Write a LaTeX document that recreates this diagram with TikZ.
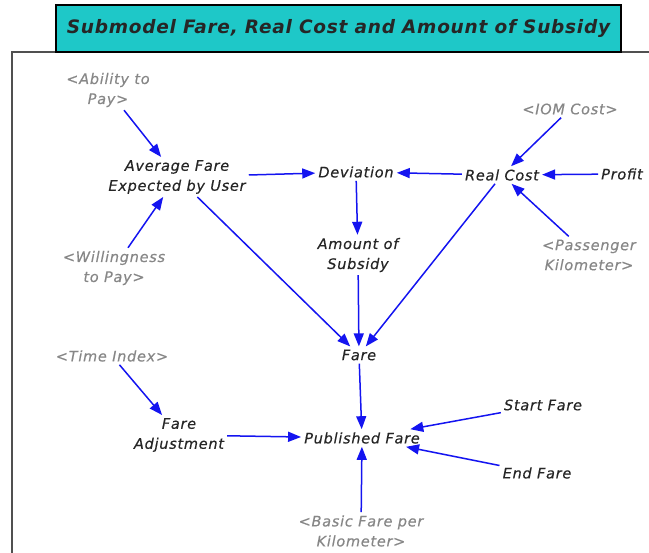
\documentclass[tikz,border=0pt]{standalone}
\usepackage{fontspec}
\setmainfont{DejaVu Sans}
\usetikzlibrary{arrows.meta}
\definecolor{linkblue}{RGB}{20,20,240}
\definecolor{shadowgray}{RGB}{135,135,135}
\definecolor{titlefill}{RGB}{30,200,200}
\definecolor{framegray}{RGB}{80,80,80}
\tikzset{
  var/.style={align=center, inner sep=3pt, text=black!85,
    font=\fontsize{14.5}{20}\selectfont\itshape\addfontfeature{LetterSpace=5,FakeBold=0.4}},
  shadow/.style={var, text=shadowgray},
  link/.style={draw=linkblue, line width=1.5pt,
    -{Triangle[length=13pt,width=10pt]}, fill=linkblue},
  titlebox/.style={draw=black, line width=1.5pt, fill=titlefill,
    inner sep=0pt, text=black!85,
    font=\fontsize{18.5}{20}\selectfont\bfseries\itshape\addfontfeature{LetterSpace=4}}
}
\begin{document}
\begin{tikzpicture}[x=1pt,y=-1pt]
\useasboundingbox (0,0) rectangle (649,553);
% outer frame of the view
\draw[framegray, line width=1.5pt] (12,553) -- (12,52) -- (649,52);
% heading
\node[titlebox, minimum width=565pt, minimum height=47pt] (title) at (338.5,28.5)
  {Submodel Fare, Real Cost and Amount of Subsidy};

% variables
\node[shadow] (ability) at (108,90) {<Ability to\\Pay>};
\node[var] (avg) at (177,177) {Average Fare\\Expected by User};
\node[shadow] (willing) at (114,268) {<Willingness\\to Pay>};
\node[var] (dev) at (356,172) {Deviation};
\node[var] (real) at (502,175) {Real Cost};
\node[var] (profit) at (622,174) {Profit};
\node[shadow] (iom) at (570,109) {<IOM Cost>};
\node[shadow] (pkm) at (589,255) {<Passenger\\Kilometer>};
\node[var] (subsidy) at (358,255) {Amount of\\Subsidy};
\node[var] (fare) at (359,355) {Fare};
\node[var] (pub) at (362,438) {Published Fare};
\node[var] (start) at (543,405) {Start Fare};
\node[var] (end) at (537,473) {End Fare};
\node[shadow] (basic) at (361,531) {<Basic Fare per\\Kilometer>};
\node[shadow] (time) at (112,356) {<Time Index>};
\node[var] (adj) at (179,435) {Fare\\Adjustment};

% causal links
\draw[link] (ability) -- (avg);
\draw[link] (willing) -- (avg);
\draw[link] (avg) -- (dev);
\draw[link] (avg) -- (fare);
\draw[link] (real) -- (dev);
\draw[link] (dev) -- (subsidy);
\draw[link] (subsidy) -- (fare);
\draw[link] (real) -- (fare);
\draw[link] (iom) -- (real);
\draw[link] (profit) -- (real);
\draw[link] (pkm) -- (real);
\draw[link] (fare) -- (pub);
\draw[link] (start) -- (pub);
\draw[link] (end) -- (pub);
\draw[link] (basic) -- (pub);
\draw[link] (time) -- (adj);
\draw[link] (adj) -- (pub);
\end{tikzpicture}
\end{document}
